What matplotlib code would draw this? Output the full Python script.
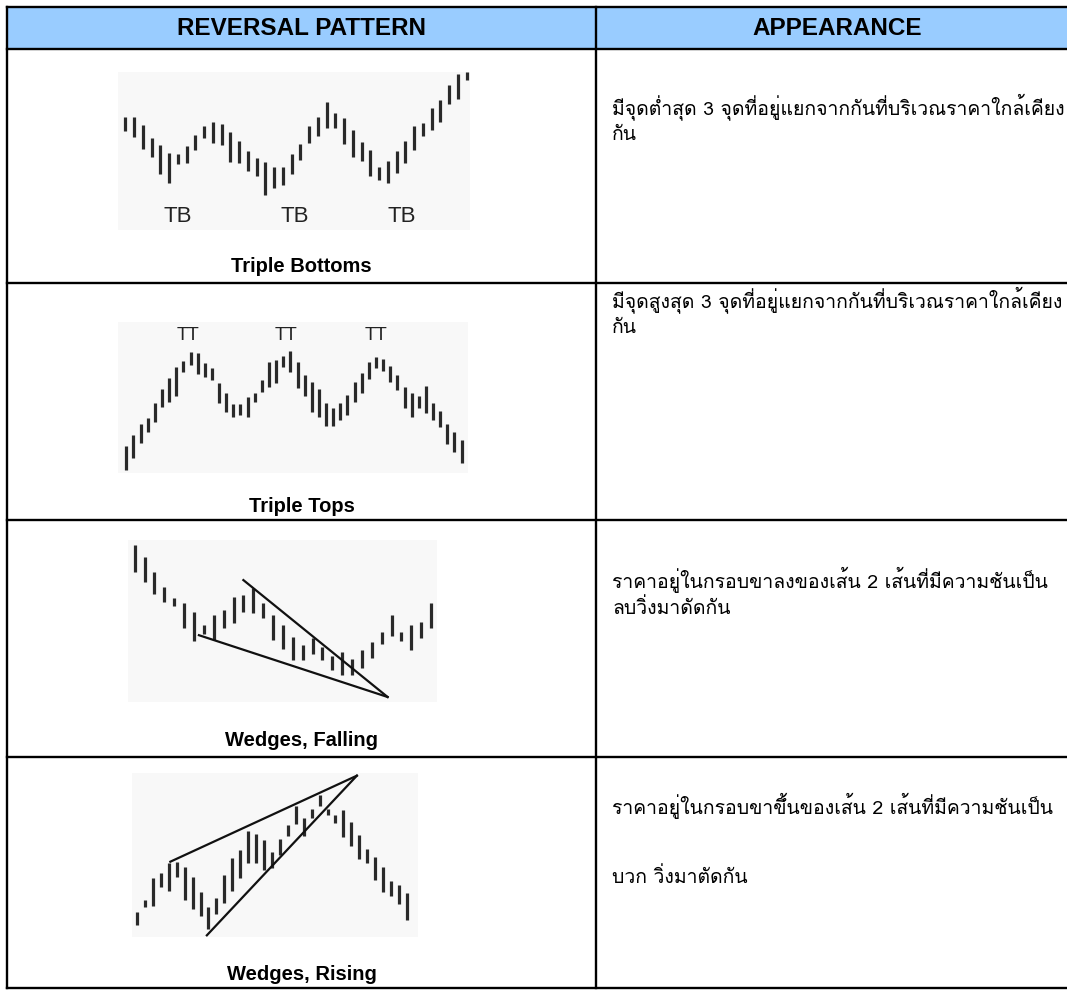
import matplotlib
matplotlib.use("Agg")
import matplotlib.pyplot as plt
import numpy as np
from matplotlib import font_manager, ft2font

# ---- data (prices, arbitrary units) ----
tb_high = [400, 400, 375, 338, 315, 290, 288, 312, 345, 372, 385, 378, 355, 328, 298, 275, 265, 248, 248, 288,
           318, 372, 400, 445, 412, 397, 360, 325, 300, 250, 268, 298, 328, 372, 382, 428, 452, 495, 528, 535]
tb_low = [358, 340, 305, 278, 228, 200, 258, 260, 302, 338, 322, 315, 265, 262, 238, 222, 165, 185, 195, 228,
          270, 322, 342, 368, 368, 320, 278, 268, 222, 210, 202, 230, 260, 302, 342, 360, 385, 438, 455, 510]
tb_marks = [6, 19.4, 31.6]

tt_high = [100, 135, 168, 185, 232, 272, 305, 338, 358, 385, 382, 350, 335, 292, 262, 228, 228, 250, 260, 300,
           355, 360, 372, 388, 355, 315, 295, 272, 232, 215, 230, 255, 295, 320, 355, 370, 365, 342, 315, 278,
           262, 252, 282, 232, 208, 168, 145, 118]
tt_low = [30, 65, 110, 145, 175, 220, 235, 252, 325, 345, 318, 310, 300, 230, 205, 190, 195, 190, 235, 265,
          280, 290, 338, 325, 275, 252, 205, 190, 162, 162, 180, 195, 235, 260, 302, 335, 328, 295, 270, 215,
          190, 215, 200, 180, 160, 108, 82, 50]
tt_marks = [8.6, 22.4, 35]

wf_high = [525, 488, 445, 400, 365, 352, 325, 285, 315, 330, 370, 375, 395, 352, 315, 285, 250, 225, 248, 220,
           192, 205, 185, 210, 235, 265, 315, 265, 285, 295, 350]
wf_low = [445, 415, 378, 355, 342, 278, 238, 260, 242, 278, 292, 325, 322, 305, 242, 215, 182, 182, 198, 182,
          150, 135, 135, 158, 188, 230, 252, 238, 212, 248, 278]
wf_upper = ([11.0, 25.6], [420, 70])
wf_lower = ([6.5, 25.6], [255, 70])

wr_high = [145, 180, 245, 262, 290, 295, 278, 250, 205, 160, 188, 255, 305, 330, 388, 378, 360, 325, 362, 405,
           460, 425, 452, 495, 452, 435, 448, 415, 375, 332, 310, 280, 238, 225, 200]
wr_low = [105, 160, 162, 220, 208, 248, 182, 155, 132, 95, 140, 172, 208, 245, 292, 292, 270, 275, 315, 372,
          408, 372, 425, 460, 435, 410, 370, 342, 302, 290, 240, 205, 192, 168, 122]
wr_upper = ([4.2, 27.7], [295, 552])
wr_lower = ([8.8, 27.7], [75, 552])

headers = ["REVERSAL PATTERN", "APPEARANCE"]
captions = ["Triple Bottoms", "Triple Tops", "Wedges, Falling", "Wedges, Rising"]
descriptions = [
    ["มีจุดต่ำสุด 3 จุดที่อยู่แยกจากกันที่บริเวณราคาใกล้เคียง", "กัน"],
    ["มีจุดสูงสุด 3 จุดที่อยู่แยกจากกันที่บริเวณราคาใกล้เคียง", "กัน"],
    ["ราคาอยู่ในกรอบขาลงของเส้น 2 เส้นที่มีความชันเป็น", "ลบวิ่งมาดัดกัน"],
    ["ราคาอยู่ในกรอบขาขึ้นของเส้น 2 เส้นที่มีความชันเป็น", "บวก วิ่งมาตัดกัน"],
]


def find_thai_font():
    for f in font_manager.fontManager.ttflist:
        try:
            cmap = ft2font.FT2Font(f.fname).get_charmap()
        except Exception:
            continue
        if 0x0E01 in cmap and 0x0E35 in cmap and 0x0E48 in cmap:
            return f.name
    return None


thai = find_thai_font()
thai_family = [thai, "DejaVu Sans"] if thai else ["DejaVu Sans"]
plt.rcParams["font.family"] = ["Liberation Sans", "DejaVu Sans"]

W, H = 1067, 990
fig = plt.figure(figsize=(W / 100, H / 100), dpi=100)
ax = fig.add_axes([0, 0, 1, 1])
ax.set_xlim(0, W)
ax.set_ylim(H, 0)
ax.axis("off")

# table grid
rows = [7, 49, 283, 520, 757, 988]
col_l, col_m, col_r = 7, 596, 1078
ax.add_patch(plt.Rectangle((col_l, rows[0]), col_r - col_l, rows[1] - rows[0], color="#99ccff", lw=0))
for y in rows:
    ax.plot([col_l, col_r], [y, y], color="black", lw=1.7, solid_capstyle="projecting")
for x in [col_l, col_m]:
    ax.plot([x, x], [rows[0], rows[-1]], color="black", lw=1.7, solid_capstyle="projecting")

ax.text((col_l + col_m) / 2, 28.5, headers[0], ha="center", va="center", fontsize=17.5, fontweight="bold")
ax.text((col_m + col_r) / 2, 28.5, headers[1], ha="center", va="center", fontsize=17.5, fontweight="bold")

caption_y = [267, 507, 741, 975]
for cap, y in zip(captions, caption_y):
    ax.text((col_l + col_m) / 2, y, cap, ha="center", va="center", fontsize=14.5, fontweight="bold")

desc_y = [[107, 135], [300, 328], [580, 608], [806, 877]]
for lines, ys in zip(descriptions, desc_y):
    for line, y in zip(lines, ys):
        ax.text(612, y, line, ha="left", va="center", fontsize=14, family=thai_family)


def price_panel(box, high, low, xlim, ylim):
    x0, y0, x1, y1 = box
    pax = fig.add_axes([x0 / W, 1 - y1 / H, (x1 - x0) / W, (y1 - y0) / H])
    pax.set_facecolor("#f8f8f8")
    for s in pax.spines.values():
        s.set_visible(False)
    pax.set_xticks([])
    pax.set_yticks([])
    idx = np.arange(len(high))
    pax.vlines(idx, low, high, color="#2a2a2a", lw=2.3)
    pax.set_xlim(*xlim)
    pax.set_ylim(*ylim)
    return pax


mark_font = ["Liberation Sans Narrow", "Liberation Sans", "DejaVu Sans"]

p1 = price_panel((118, 72, 470, 230), tb_high, tb_low, (-0.84, 39.4), (60, 535))
for m in tb_marks:
    p1.text(m, 100, "TB", ha="center", va="center", fontsize=16, color="#222222", family=mark_font,
            stretch="condensed")

p2 = price_panel((118, 322, 468, 473), tt_high, tt_low, (-1.17, 47.9), (20, 475))
for m in tt_marks:
    p2.text(m, 435, "TT", ha="center", va="center", fontsize=13.5, color="#222222", family=mark_font,
            stretch="condensed")

p3 = price_panel((128, 540, 437, 702), wf_high, wf_low, (-0.68, 30.6), (55, 540))
p3.plot(*wf_upper, color="#111111", lw=1.6)
p3.plot(*wf_lower, color="#111111", lw=1.6)

p4 = price_panel((132, 773, 418, 937), wr_high, wr_low, (-0.63, 35.4), (70, 560))
p4.plot(*wr_upper, color="#111111", lw=1.6)
p4.plot(*wr_lower, color="#111111", lw=1.6)

fig.savefig("out.png", dpi=100)
